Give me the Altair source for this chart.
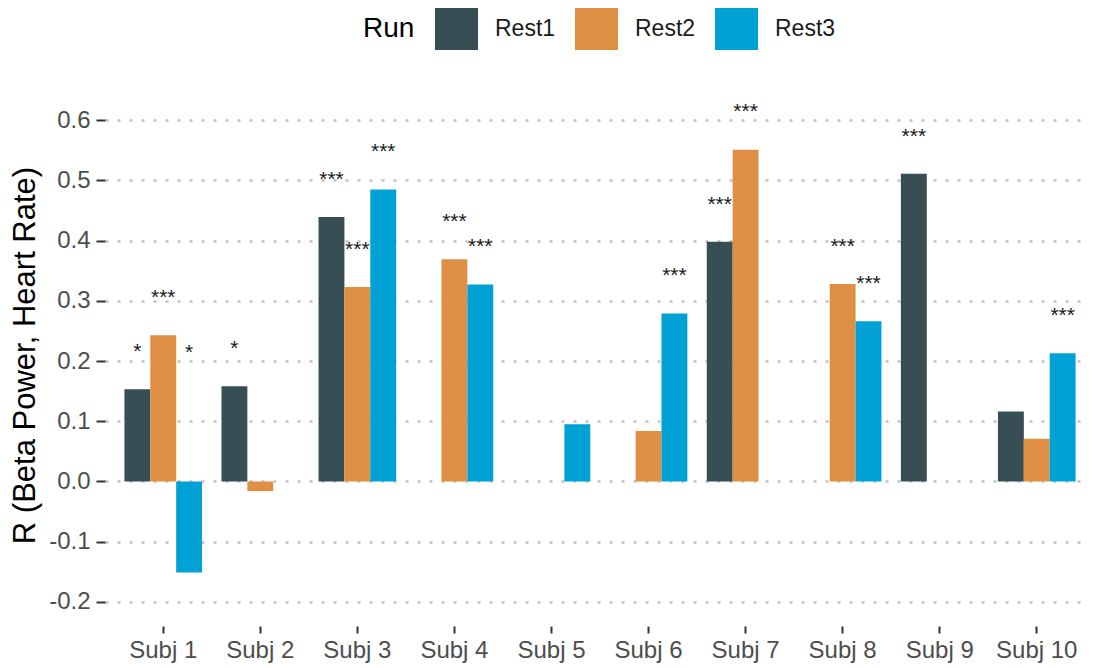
import altair as alt
import pandas as pd

subjects = ["Subj 1", "Subj 2", "Subj 3", "Subj 4", "Subj 5",
            "Subj 6", "Subj 7", "Subj 8", "Subj 9", "Subj 10"]
runs = ["Rest1", "Rest2", "Rest3"]
colors = ["#374E55", "#DF8F44", "#00A1D5"]

rest1 = [0.153, 0.158, 0.439, None, None, None, 0.398, None, 0.511, 0.116]
rest2 = [0.243, -0.016, 0.323, 0.369, None, 0.084, 0.551, 0.328, None, 0.071]
rest3 = [-0.151, None, 0.485, 0.327, 0.095, 0.279, None, 0.266, None, 0.213]

stars1 = ["*", "*", "***", "", "", "", "***", "", "***", ""]
stars2 = ["***", "", "***", "***", "", "", "***", "***", "", ""]
stars3 = ["*", "", "***", "***", "", "***", "", "***", "", "***"]

y_ticks = [-0.2, -0.1, 0.0, 0.1, 0.2, 0.3, 0.4, 0.5, 0.6]

rows = []
for run, vals, sig in zip(runs, [rest1, rest2, rest3], [stars1, stars2, stars3]):
    for s, v, st in zip(subjects, vals, sig):
        if v is not None:
            rows.append({"Subject": s, "Run": run, "R": v, "Sig": st})
df = pd.DataFrame(rows)

x_enc = alt.X("Subject:N", sort=subjects, title=None,
              scale=alt.Scale(paddingInner=0.2, paddingOuter=0.2),
              axis=alt.Axis(labelAngle=0, domain=False, ticks=True, tickSize=7,
                            tickColor="#333333", tickWidth=2, labelFontSize=24,
                            labelColor="#4D4D4D", labelPadding=5, grid=False))
xoff = alt.XOffset("Run:N", sort=runs,
                   scale=alt.Scale(domain=runs, paddingInner=0, paddingOuter=0))

bars = alt.Chart(df).mark_bar().encode(
    x=x_enc,
    xOffset=xoff,
    y=alt.Y("R:Q", title="R (Beta Power, Heart Rate)",
            scale=alt.Scale(domain=[-0.24, 0.66], nice=False, zero=False),
            axis=alt.Axis(values=y_ticks, domain=False, tickSize=9, tickWidth=2,
                          tickColor="#333333", labelFontSize=24, labelColor="#4D4D4D",
                          labelPadding=6, titleFontSize=31, titleFontWeight="normal",
                          titleColor="#000000", titlePadding=7,
                          labelExpr="replace(format(datum.value, '.1f'), '\u2212', '-')",
                          grid=True, gridDash=[3, 9], gridWidth=2.5,
                          gridColor="#C2C2C2")),
    color=alt.Color("Run:N", sort=runs,
                    scale=alt.Scale(domain=runs, range=colors),
                    legend=alt.Legend(orient="none", legendX=258, legendY=-77,
                                      direction="horizontal", titleOrient="left",
                                      titleFontSize=28, titleFontWeight="normal",
                                      titleColor="#000000", titlePadding=20,
                                      labelFontSize=23, labelColor="#1A1A1A",
                                      symbolType="square", symbolSize=1849,
                                      symbolStrokeWidth=0, labelOffset=17,
                                      columnPadding=19)),
)

labels = alt.Chart(df).transform_calculate(
    ly="abs(datum.R) + 0.07"
).mark_text(fontSize=21, baseline="middle", dy=5, color="#1A1A1A").encode(
    x=alt.X("Subject:N", sort=subjects),
    xOffset=xoff,
    y=alt.Y("ly:Q"),
    text="Sig:N",
)

chart = alt.layer(bars, labels).properties(
    width=990, height=542,
    autosize=alt.AutoSizeParams(type="none"),
    padding={"left": 97, "top": 76, "right": -9, "bottom": 38},
).configure(font="Liberation Sans").configure_view(stroke=None)

chart.save("out.html", embed_options={"renderer": "svg", "actions": False})
